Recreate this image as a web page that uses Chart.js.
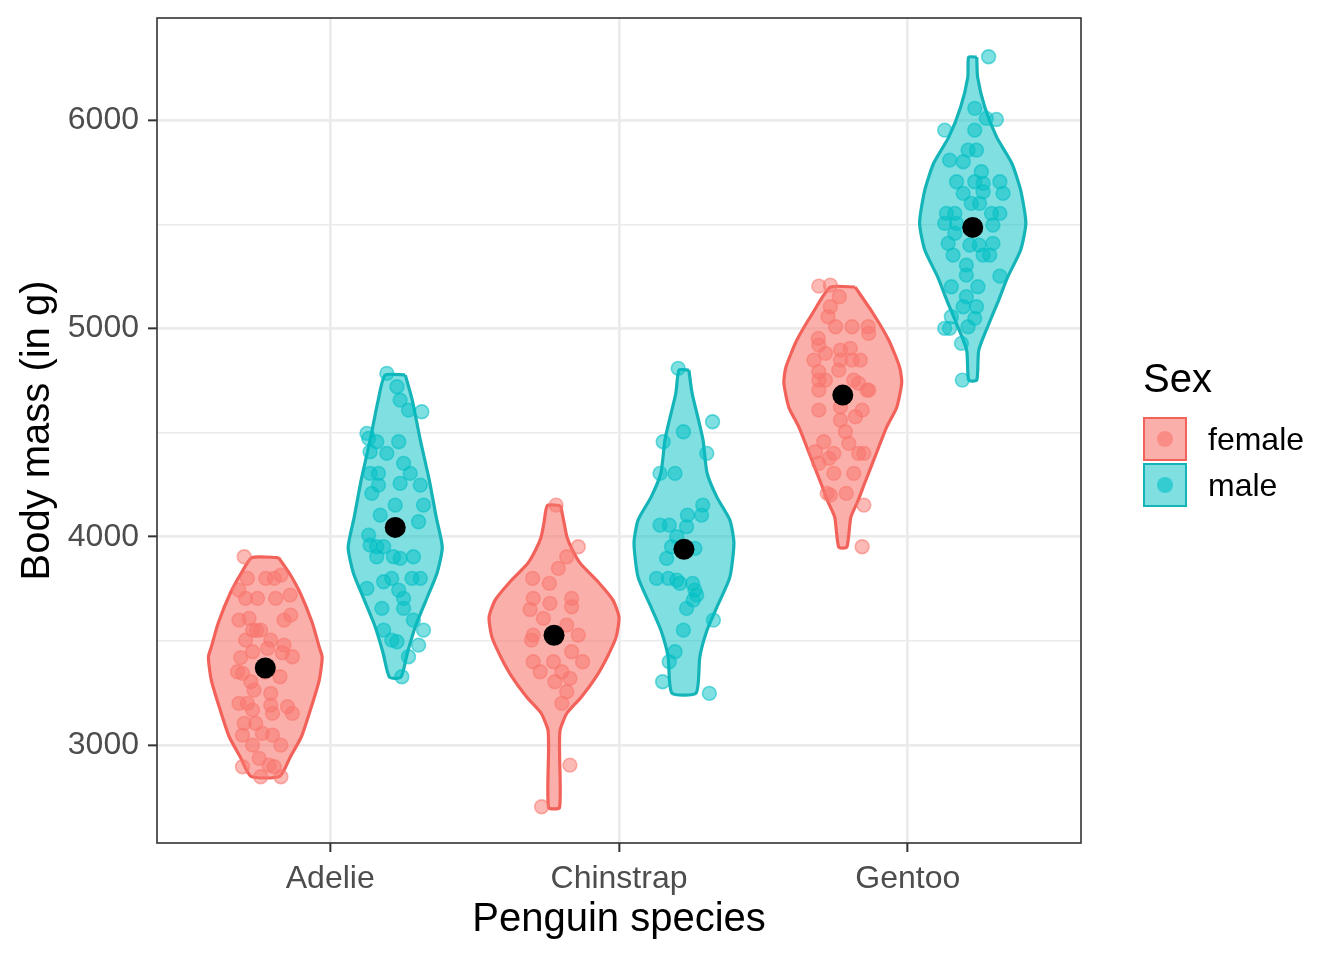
<!DOCTYPE html>
<html>
<head>
<meta charset="utf-8">
<script src="https://cdn.jsdelivr.net/npm/chart.js@4.4.1/dist/chart.umd.min.js"></script>
<style>
  body { margin: 0; background: #fff; font-family: "Liberation Sans", Arial, sans-serif; }
  #wrap { position: relative; width: 1344px; height: 960px; }
  #legend { position: absolute; left: 1143px; top: 352px; }
  #legend .title { font-size: 40px; color: #000; height: 52px; line-height: 52px; margin-bottom: 12px; }
  #legend .row { display: flex; align-items: center; height: 46px; }
  #legend .key { position: relative; width: 40px; height: 40px; border: 2px solid; }
  #legend .key span { position: absolute; left: 12px; top: 12px; width: 16px; height: 16px; border-radius: 50%; }
  #legend .lab { font-size: 32px; color: #000; margin-left: 21px; }
</style>
</head>
<body>
<div id="wrap">
  <canvas id="chart" width="1344" height="960"></canvas>
  <div id="legend"></div>
</div>
<script>
// данные
const species = ['Adelie', 'Chinstrap', 'Gentoo'];
const sexes = ['female', 'male'];
const sexColors = ['#F8766D', '#00BFC4'];
const sexLines = ['#F2625A', '#14B4B8'];
const yTicks = [3000, 3500, 4000, 4500, 5000, 5500, 6000];

const femaleMeans = [3370, 3527, 4680];
const maleMeans = [4045, 3940, 5485];

// violin outlines: body mass levels and half widths (category units)
const adelieFemaleLevels = [3900, 3826, 3730, 3586, 3470, 3422, 3312, 3168, 3040, 2944, 2850];
const adelieFemaleWidths = [0.046, 0.083, 0.121, 0.163, 0.187, 0.197, 0.187, 0.156, 0.125, 0.087, 0.050];
const adelieMaleLevels = [4776, 4656, 4464, 4272, 4094, 3950, 3826, 3696, 3566, 3442, 3326];
const adelieMaleWidths = [0.035, 0.059, 0.087, 0.118, 0.142, 0.163, 0.145, 0.107, 0.069, 0.042, 0.020];
const chinstrapFemaleLevels = [4150, 4066, 3998, 3936, 3874, 3778, 3696, 3614, 3518, 3422, 3326, 3230, 3154, 3072, 2976, 2700];
const chinstrapFemaleWidths = [0.023, 0.035, 0.045, 0.064, 0.090, 0.156, 0.204, 0.225, 0.215, 0.184, 0.145, 0.094, 0.045, 0.021, 0.019, 0.019];
const chinstrapMaleLevels = [4800, 4690, 4574, 4464, 4306, 4190, 4080, 3970, 3806, 3662, 3552, 3424, 3250];
const chinstrapMaleWidths = [0.017, 0.028, 0.048, 0.066, 0.080, 0.114, 0.159, 0.173, 0.159, 0.114, 0.080, 0.055, 0.042];
const gentooFemaleLevels = [5198, 5074, 4944, 4814, 4738, 4622, 4526, 4382, 4258, 4170, 4094, 3950];
const gentooFemaleWidths = [0.043, 0.104, 0.159, 0.197, 0.204, 0.187, 0.152, 0.111, 0.076, 0.052, 0.028, 0.014];
const gentooMaleLevels = [6302, 6206, 6062, 5918, 5794, 5664, 5506, 5376, 5246, 5136, 5026, 4896, 4752];
const gentooMaleWidths = [0.014, 0.017, 0.042, 0.083, 0.135, 0.166, 0.184, 0.166, 0.121, 0.090, 0.057, 0.021, 0.014];

// jittered observations: [jitter offset, body mass]
const adelieFemalePts = [
  [-0.073, 3904], [-0.062, 3800], [0.002, 3800], [0.031, 3800], [0.054, 3816], [-0.091, 3744],
  [-0.068, 3704], [-0.027, 3704], [0.036, 3704], [0.086, 3720], [-0.091, 3600], [-0.056, 3608],
  [0.065, 3600], [0.088, 3624], [-0.068, 3504], [-0.044, 3552], [-0.016, 3552], [0.019, 3504],
  [0.065, 3480], [0.059, 3443], [0.094, 3424], [-0.044, 3448], [0.008, 3464], [-0.096, 3352],
  [-0.079, 3344], [0.051, 3328], [-0.050, 3304], [-0.039, 3264], [0.019, 3248], [-0.091, 3200],
  [-0.062, 3200], [-0.044, 3168], [0.019, 3192], [0.025, 3152], [0.077, 3184], [0.094, 3152],
  [-0.073, 3104], [-0.033, 3104], [-0.079, 3048], [-0.010, 3056], [0.025, 3048], [-0.044, 3000],
  [0.054, 3000], [-0.079, 2896], [-0.021, 2936], [0.013, 2904], [0.031, 2896], [-0.016, 2848],
  [0.054, 2848], [-0.030, 3550], [0.000, 3350], [-0.085, 3420]
];
const adelieMalePts = [
  [-0.029, 4784], [0.006, 4720], [0.017, 4656], [0.046, 4608], [0.092, 4600], [-0.098, 4496],
  [-0.092, 4472], [-0.064, 4456], [0.012, 4456], [-0.087, 4408], [-0.029, 4400], [0.029, 4352],
  [0.052, 4304], [-0.087, 4304], [-0.058, 4304], [0.017, 4256], [0.087, 4248], [-0.081, 4208],
  [-0.058, 4248], [0.000, 4152], [0.098, 4152], [-0.052, 4104], [0.081, 4072], [-0.092, 4008],
  [-0.087, 3960], [-0.064, 3952], [-0.040, 3952], [-0.006, 3904], [0.017, 3896], [0.063, 3904],
  [-0.064, 3904], [-0.040, 3784], [-0.012, 3800], [0.012, 3744], [0.058, 3800], [0.087, 3800],
  [-0.098, 3752], [0.029, 3704], [-0.046, 3656], [0.029, 3656], [0.063, 3600], [-0.040, 3552],
  [-0.012, 3504], [0.006, 3496], [0.098, 3552], [0.081, 3480], [0.046, 3424], [0.023, 3328]
];
const chinstrapFemalePts = [
  [0.007, 4152], [0.084, 3952], [0.044, 3904], [0.015, 3848], [-0.074, 3800], [-0.016, 3776],
  [-0.072, 3704], [-0.014, 3680], [0.061, 3704], [0.061, 3664], [-0.083, 3651], [-0.037, 3608],
  [0.044, 3576], [-0.072, 3528], [-0.078, 3504], [0.084, 3528], [0.061, 3448], [-0.072, 3400],
  [-0.002, 3400], [0.099, 3400], [-0.048, 3352], [0.027, 3352], [0.055, 3320], [0.003, 3304],
  [0.044, 3256], [0.027, 3200], [0.055, 2904], [-0.043, 2704]
];
const chinstrapMalePts = [
  [-0.020, 4808], [0.099, 4552], [-0.002, 4504], [-0.072, 4456], [0.079, 4400], [-0.083, 4304],
  [-0.031, 4304], [0.065, 4152], [0.061, 4104], [0.012, 4104], [-0.083, 4056], [-0.051, 4056],
  [0.009, 4048], [-0.025, 4000], [-0.043, 3952], [0.038, 3944], [-0.060, 3896], [-0.095, 3800],
  [-0.054, 3800], [-0.025, 3792], [-0.014, 3776], [0.030, 3776], [0.038, 3744], [0.044, 3720],
  [0.032, 3696], [0.009, 3656], [0.102, 3600], [-0.002, 3552], [-0.031, 3448], [-0.051, 3400],
  [-0.074, 3304], [0.088, 3248]
];
const gentooFemalePts = [
  [-0.083, 5203], [-0.043, 5208], [-0.012, 5152], [-0.043, 5104], [-0.051, 5056], [-0.025, 5008],
  [0.032, 5008], [0.088, 5008], [0.090, 4976], [-0.085, 4952], [-0.083, 4920], [-0.060, 4880],
  [-0.100, 4848], [-0.008, 4896], [0.026, 4904], [-0.008, 4848], [0.032, 4848], [0.061, 4848],
  [-0.083, 4792], [-0.014, 4800], [-0.083, 4752], [-0.060, 4752], [0.038, 4752], [0.055, 4736],
  [0.084, 4704], [0.090, 4704], [-0.083, 4704], [-0.083, 4608], [-0.008, 4624], [0.044, 4576],
  [0.067, 4608], [-0.008, 4560], [0.009, 4504], [-0.066, 4456], [0.021, 4448], [-0.095, 4408],
  [-0.031, 4400], [0.055, 4400], [0.073, 4400], [-0.048, 4376], [-0.083, 4352], [-0.031, 4304],
  [0.038, 4304], [-0.054, 4208], [-0.043, 4200], [0.012, 4208], [0.073, 4152], [0.067, 3952]
];
const gentooMalePts = [
  [0.055, 6304], [0.007, 6056], [0.047, 6008], [0.082, 6003], [-0.097, 5952], [0.007, 5952],
  [-0.016, 5856], [0.013, 5856], [-0.080, 5808], [-0.033, 5800], [0.030, 5752], [-0.056, 5704],
  [0.007, 5704], [0.036, 5696], [0.094, 5704], [0.105, 5648], [-0.033, 5648], [0.036, 5656],
  [-0.005, 5600], [0.024, 5600], [-0.091, 5552], [-0.062, 5552], [0.065, 5552], [0.094, 5552],
  [-0.097, 5504], [-0.056, 5504], [0.070, 5496], [-0.062, 5456], [-0.085, 5408], [-0.010, 5400],
  [0.022, 5400], [0.070, 5408], [-0.068, 5352], [0.036, 5352], [0.059, 5352], [-0.022, 5304],
  [-0.022, 5256], [0.094, 5251], [-0.074, 5200], [0.018, 5200], [-0.022, 5152], [-0.033, 5104],
  [0.013, 5104], [-0.074, 5056], [0.007, 5048], [-0.097, 5000], [-0.080, 5000], [-0.016, 5008],
  [-0.039, 4928], [-0.036, 4752]
];

const dodge = 0.225;

const violins = [
  { cat: 1, sex: 0, levels: adelieFemaleLevels, widths: adelieFemaleWidths, pts: adelieFemalePts },
  { cat: 1, sex: 1, levels: adelieMaleLevels, widths: adelieMaleWidths, pts: adelieMalePts },
  { cat: 2, sex: 0, levels: chinstrapFemaleLevels, widths: chinstrapFemaleWidths, pts: chinstrapFemalePts },
  { cat: 2, sex: 1, levels: chinstrapMaleLevels, widths: chinstrapMaleWidths, pts: chinstrapMalePts },
  { cat: 3, sex: 0, levels: gentooFemaleLevels, widths: gentooFemaleWidths, pts: gentooFemalePts },
  { cat: 3, sex: 1, levels: gentooMaleLevels, widths: gentooMaleWidths, pts: gentooMalePts }
];

function alpha(hex, a) {
  const n = parseInt(hex.slice(1), 16);
  return `rgba(${n >> 16}, ${(n >> 8) & 255}, ${n & 255}, ${a})`;
}

const datasets = [];

violins.forEach(v => {
  const c = v.cat + (v.sex === 0 ? -dodge : dodge);
  // контур: правая сторона сверху вниз, потом левая снизу вверх
  const outline = v.levels.map((m, i) => ({ x: c + v.widths[i], y: m }));
  for (let i = v.levels.length - 1; i >= 0; i--) outline.push({ x: c - v.widths[i], y: v.levels[i] });
  outline.push(outline[0]);
  datasets.push({
    type: 'line',
    data: outline,
    borderColor: sexLines[v.sex],
    backgroundColor: alpha(sexColors[v.sex], v.sex === 0 ? 0.58 : 0.5),
    borderWidth: 3.2,
    pointRadius: 0,
    tension: 0.2,
    fill: 'shape',
    order: 3
  });
  datasets.push({
    type: 'scatter',
    data: v.pts.map(p => ({ x: c + p[0], y: p[1] })),
    backgroundColor: alpha(sexColors[v.sex], 0.5),
    borderColor: alpha(sexColors[v.sex], 0.55),
    borderWidth: 1.6,
    pointRadius: 6.9,
    pointHoverRadius: 6.9,
    order: 2
  });
});

datasets.push({
  type: 'scatter',
  data: species.map((s, i) => ({ x: i + 1 - dodge, y: femaleMeans[i] }))
    .concat(species.map((s, i) => ({ x: i + 1 + dodge, y: maleMeans[i] }))),
  backgroundColor: '#000',
  borderColor: '#000',
  borderWidth: 0,
  pointRadius: 10.5,
  order: 1
});

const panelBorder = {
  id: 'panelBorder',
  afterDatasetsDraw(chart) {
    const { ctx, chartArea: a } = chart;
    ctx.save();
    ctx.strokeStyle = '#333333';
    ctx.lineWidth = 1.6;
    ctx.strokeRect(a.left, a.top, a.right - a.left, a.bottom - a.top);
    ctx.restore();
  }
};

const font = '"Liberation Sans", Arial, sans-serif';

new Chart(document.getElementById('chart').getContext('2d'), {
  type: 'scatter',
  data: { datasets },
  options: {
    responsive: false,
    animation: false,
    devicePixelRatio: 1,
    layout: { autoPadding: false, padding: { left: 0, right: 263, top: 18, bottom: 0 } },
    plugins: { legend: { display: false }, tooltip: { enabled: false } },
    scales: {
      x: {
        type: 'linear',
        min: 0.4,
        max: 3.6,
        afterBuildTicks: s => { s.ticks = species.map((n, i) => ({ value: i + 1 })); },
        afterFit: s => { s.height = 117; s.paddingLeft = 0; s.paddingRight = 0; },
        ticks: {
          callback: v => species[v - 1],
          color: '#4D4D4D',
          font: { family: font, size: 32 },
          padding: 8,
          maxRotation: 0
        },
        grid: { color: '#EBEBEB', lineWidth: 2.7, tickColor: '#333333', tickLength: 9, tickWidth: 2 },
        border: { display: false },
        title: {
          display: true,
          text: 'Penguin species',
          color: '#000',
          font: { family: font, size: 40 },
          padding: { top: 0, bottom: 16 }
        }
      },
      y: {
        min: 2530,
        max: 6490,
        afterBuildTicks: s => { s.ticks = yTicks.map(v => ({ value: v })); },
        afterFit: s => { s.width = 157; s.paddingTop = 0; s.paddingBottom = 0; },
        ticks: {
          callback: v => (v % 1000 === 0 ? String(v) : ''),
          color: '#4D4D4D',
          font: { family: font, size: 32 },
          padding: 9
        },
        grid: {
          color: '#EBEBEB',
          lineWidth: c => (c.tick && c.tick.value % 1000 === 0 ? 2.7 : 1.4),
          tickColor: c => (c.tick && c.tick.value % 1000 === 0 ? '#333333' : 'rgba(0,0,0,0)'),
          tickLength: 9,
          tickWidth: 2
        },
        border: { display: false },
        title: {
          display: true,
          text: 'Body mass (in g)',
          color: '#000',
          font: { family: font, size: 40 },
          padding: { top: 14, bottom: 0 }
        }
      }
    }
  },
  plugins: [panelBorder]
});

// легенда
const legend = document.getElementById('legend');
legend.innerHTML = '<div class="title">Sex</div>' + sexes.map((s, i) =>
  `<div class="row"><div class="key" style="border-color:${sexLines[i]};background:${alpha(sexColors[i], i === 0 ? 0.58 : 0.5)}">` +
  `<span style="background:${alpha(sexColors[i], 0.6)}"></span></div><div class="lab">${s}</div></div>`
).join('');
</script>
</body>
</html>
